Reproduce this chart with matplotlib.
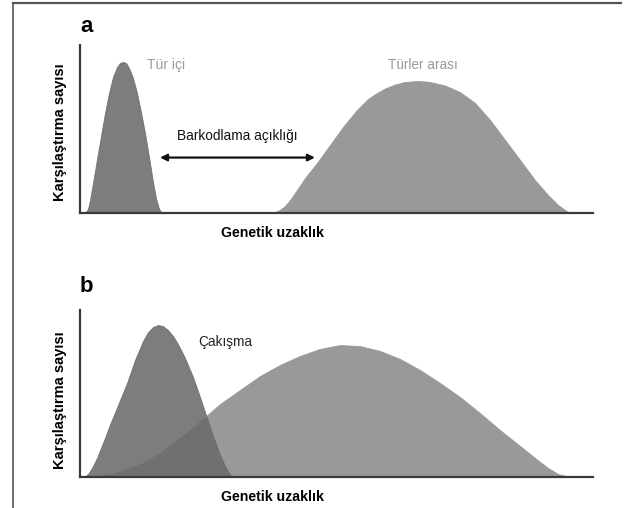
import matplotlib
matplotlib.use("Agg")
import matplotlib.pyplot as plt
from matplotlib.lines import Line2D

plt.rcParams['font.family'] = ['Liberation Sans', 'DejaVu Sans']

# ---- data (genetic distance 0-100, count 0-100) ----
a_intra_x = [0.97, 1.56, 1.95, 2.53, 3.31, 4.09, 4.87, 5.65, 6.43, 7.21, 7.80, 8.38, 8.97,
             9.55, 10.33, 11.11, 11.89, 12.67, 13.45, 14.23, 14.81, 15.40, 15.98]
a_intra_y = [0, 2.4, 7.7, 17.9, 32.1, 45.8, 59.5, 71.4, 81.0, 86.9, 89.3, 89.9, 89.3,
             86.3, 80.4, 71.4, 60.1, 47.6, 33.3, 18.5, 8.9, 2.4, 0]

a_inter_x = [37.43, 38.60, 39.77, 40.94, 42.30, 43.86, 46.20, 48.73, 51.27, 53.80, 56.14,
             57.89, 59.45, 61.40, 63.35, 65.89, 68.23, 71.15, 74.07, 77.00, 79.92, 82.85,
             85.77, 88.69, 91.23, 93.18, 94.54, 95.52]
a_inter_y = [0, 1.2, 3.6, 7.7, 13.7, 20.8, 29.8, 40.5, 51.2, 60.7, 67.9,
             71.4, 74.1, 76.5, 78.0, 78.6, 78.0, 75.9, 72.0, 65.5, 55.4, 43.5,
             31.6, 19.6, 10.7, 4.8, 1.8, 0]

b_intra_x = [0.78, 1.56, 2.34, 3.31, 4.48, 5.85, 7.41, 9.16, 10.72, 12.28, 13.26, 14.23, 15.20,
             16.18, 17.15, 18.13, 19.10, 20.47, 22.03, 23.39, 24.56, 25.93, 27.29, 28.27,
             29.04, 29.63]
b_intra_y = [0, 1.8, 5.4, 11.4, 20.4, 31.5, 43.1, 56.3, 70.1, 81.4, 86.8, 89.8, 91.0,
             90.4, 88.0, 84.4, 79.6, 71.3, 59.9, 47.9, 37.1, 24.6, 13.2, 6.6,
             2.4, 0]

b_inter_x = [1.56, 3.90, 6.82, 9.75, 12.67, 15.59, 18.52, 21.44, 24.37, 27.29, 31.19, 35.09,
             38.99, 42.88, 46.78, 50.68, 54.58, 58.48, 62.38, 66.28, 70.18, 74.07, 77.97,
             81.87, 85.77, 88.69, 91.23, 93.18, 95.52]
b_inter_y = [0, 0.6, 2.4, 5.4, 9.0, 14.4, 21.0, 28.1, 35.9, 43.7, 52.1, 60.5,
             67.1, 72.5, 76.7, 79.0, 78.4, 75.5, 70.7, 64.1, 56.3, 47.9, 38.3,
             28.1, 18.6, 11.4, 5.4, 1.8, 0]

gap_start, gap_end, gap_level = 15.6, 45.8, 33

W, H = 627, 508
fig = plt.figure(figsize=(W / 100, H / 100), dpi=100)

DARK = '#6a6a6a'
LIGHT = '#999999'
SPINE = '#3a3a3a'


def make_ax(left, top, right, bottom):
    ax = fig.add_axes([left / W, 1 - bottom / H, (right - left) / W, (bottom - top) / H])
    ax.set_xlim(0, 100)
    ax.set_ylim(0, 100)
    for s in ('top', 'right'):
        ax.spines[s].set_visible(False)
    for s in ('left', 'bottom'):
        ax.spines[s].set_color(SPINE)
        ax.spines[s].set_linewidth(1.6)
    ax.set_xticks([])
    ax.set_yticks([])
    return ax


# Panel a
axa = make_ax(80, 45, 593, 213)
axa.fill_between(a_inter_x, a_inter_y, 0, color=LIGHT, lw=0.6, ec=LIGHT)
axa.fill_between(a_intra_x, a_intra_y, 0, color=DARK, alpha=0.87, lw=0.6)
axa.text(13.1, 88, 'Tür içi', color='#9a9a9a', fontsize=10, va='center', ha='left')
axa.text(66.9, 88, 'Türler arası', color='#9a9a9a', fontsize=9.8, va='center', ha='center')
axa.text(30.6, 45.8, 'Barkodlama açıklığı', color='#111111', fontsize=9.8, va='center', ha='center')
axa.annotate('', xy=(gap_start, gap_level), xytext=(gap_end, gap_level),
             arrowprops=dict(arrowstyle='<|-|>', color='#111111', lw=1.6,
                             mutation_scale=10, shrinkA=0, shrinkB=0))

# Panel b
axb = make_ax(80, 310, 593, 477)
axb.fill_between(b_inter_x, b_inter_y, 0, color=LIGHT, lw=0.6, ec=LIGHT)
axb.fill_between(b_intra_x, b_intra_y, 0, color=DARK, alpha=0.87, lw=0.6)
axb.text(23.0, 80.8, 'Çakışma', color='#222222', fontsize=9.8, va='center', ha='left')

# Panel letters and axis labels
fig.text(80 / W, 1 - 27 / H, 'a', fontsize=16, fontweight='bold', va='center', ha='left')
fig.text(80 / W, 1 - 286 / H, 'b', fontsize=16, fontweight='bold', va='center', ha='left')
for ycen in (132, 400):
    fig.text(60 / W, 1 - ycen / H, 'Karşılaştırma sayısı', fontsize=10.5, fontweight='bold',
             rotation=90, va='center', ha='center')
for ycen in (233, 497):
    fig.text(272 / W, 1 - ycen / H, 'Genetik uzaklık', fontsize=10.2, fontweight='bold',
             va='center', ha='center')

# Outer frame (top and left edges)
fig.add_artist(Line2D([13 / W, 621 / W], [1 - 3 / H, 1 - 3 / H], color='#555555', lw=1.6,
                      transform=fig.transFigure))
fig.add_artist(Line2D([13 / W, 13 / W], [1 - 3 / H, 0], color='#555555', lw=1.2,
                      transform=fig.transFigure))

fig.savefig('out.png', dpi=100)
